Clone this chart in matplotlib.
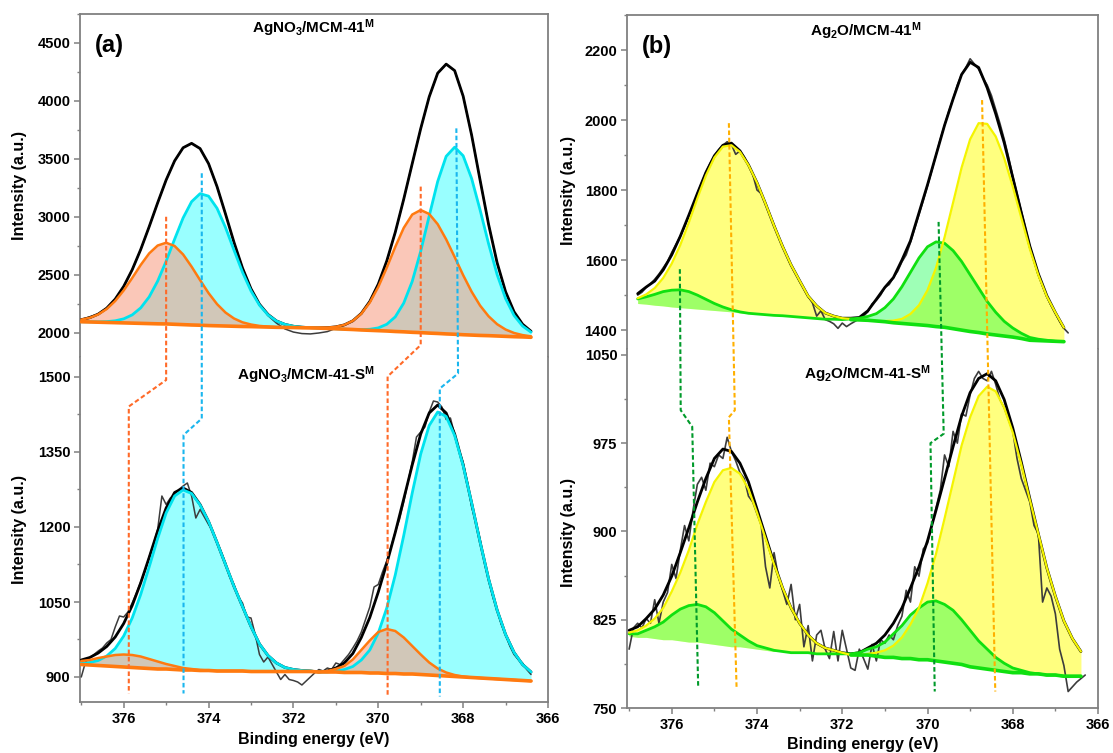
import numpy as np
import matplotlib
matplotlib.use('Agg')
import matplotlib.pyplot as plt
from matplotlib.lines import Line2D
from matplotlib.ticker import MultipleLocator

plt.rcParams['font.family'] = ['Liberation Sans', 'DejaVu Sans']
plt.rcParams['font.weight'] = 'bold'
plt.rcParams['mathtext.fontset'] = 'custom'
plt.rcParams['mathtext.rm'] = 'Liberation Sans:bold'
plt.rcParams['mathtext.bf'] = 'Liberation Sans:bold'
plt.rcParams['mathtext.it'] = 'Liberation Sans:bold'
plt.rcParams['mathtext.default'] = 'rm'
plt.rcParams['lines.solid_joinstyle'] = 'round'
plt.rcParams['lines.solid_capstyle'] = 'round'

# ---------------- data (binding energy grids, eV) ----------------
GRID_A = np.round(377.0 - 0.2 * np.arange(54), 2)     # 377.0 ... 366.4
GRID_BT = np.round(376.8 - 0.2 * np.arange(51), 2)    # 376.8 ... 366.8
GRID_BB = GRID_A

# ---- (a) AgNO3/MCM-41^M ----
a_top_base = [2097, 2095, 2093, 2091, 2089, 2087, 2085, 2083, 2081, 2079,
              2078, 2075, 2072, 2069, 2067, 2064, 2062, 2060, 2058, 2056,
              2055, 2053, 2051, 2049, 2048, 2047, 2045, 2044, 2042, 2039,
              2036, 2033, 2030, 2026, 2023, 2020, 2017, 2013, 2010, 2006,
              2003, 1999, 1996, 1992, 1989, 1985, 1982, 1979, 1977, 1974,
              1971, 1968, 1966, 1963]
a_top_orange = [2115, 2131, 2160, 2207, 2276, 2367, 2474, 2586, 2686, 2754,
                2778, 2750, 2677, 2572, 2456, 2344, 2249, 2176, 2125, 2092,
                2073, 2061, 2055, 2050, 2048, 2047, 2045, 2044, 2045, 2046,
                2053, 2070, 2105, 2166, 2263, 2397, 2563, 2742, 2906, 3021,
                3060, 3026, 2938, 2807, 2655, 2499, 2356, 2236, 2144, 2076,
                2030, 2000, 1982, 1971]
a_top_cyan = [2097, 2096, 2096, 2098, 2105, 2122, 2156, 2216, 2311, 2447,
              2619, 2809, 2992, 3132, 3201, 3180, 3075, 2909, 2714, 2524,
              2363, 2240, 2156, 2103, 2074, 2058, 2050, 2046, 2042, 2039,
              2036, 2033, 2030, 2029, 2032, 2044, 2075, 2139, 2258, 2445,
              2705, 3009, 3306, 3523, 3602, 3528, 3332, 3060, 2769, 2505,
              2297, 2151, 2060, 2007]
a_top_env = [2115, 2132, 2163, 2214, 2292, 2402, 2545, 2719, 2916, 3122,
             3319, 3484, 3597, 3635, 3590, 3460, 3262, 3025, 2781, 2560,
             2381, 2248, 2160, 2104, 2074, 2058, 2050, 2046, 2045, 2046,
             2053, 2070, 2105, 2169, 2272, 2421, 2621, 2868, 3154, 3460,
             3762, 4036, 4240, 4318, 4262, 4042, 3706, 3317, 2936, 2607,
             2356, 2183, 2076, 2015]
a_top_raw = [2115, 2140, 2163, 2214, 2292, 2402, 2545, 2719, 2916, 3122,
             3319, 3484, 3597, 3635, 3590, 3460, 3262, 3025, 2781, 2560,
             2381, 2248, 2150, 2085, 2035, 2008, 1995, 1992, 2000, 2012,
             2040, 2068, 2105, 2169, 2272, 2421, 2621, 2868, 3154, 3460,
             3762, 4036, 4240, 4318, 4262, 4042, 3706, 3317, 2936, 2607,
             2356, 2183, 2076, 2015]

# ---- (a) AgNO3/MCM-41-S^M ----
a_bot_base = [925, 924, 923, 922, 921, 920, 919, 918, 917, 916,
              916, 915, 914, 914, 913, 913, 912, 912, 912, 912,
              911, 911, 911, 911, 911, 911, 911, 911, 910, 910,
              910, 909, 909, 909, 908, 908, 907, 907, 906, 906,
              905, 904, 903, 902, 901, 900, 899, 898, 897, 896,
              895, 894, 893, 892]
a_bot_orange = [932, 934, 938, 941, 944, 945, 944, 941, 936, 931,
                926, 922, 918, 916, 914, 913, 912, 912, 912, 912,
                911, 911, 911, 911, 911, 911, 911, 911, 910, 912,
                916, 922, 935, 954, 973, 990, 996, 992, 979, 962,
                945, 929, 917, 909, 904, 901, 899, 898, 897, 896,
                895, 894, 893, 892]
a_bot_cyan = [927, 929, 933, 942, 957, 982, 1018, 1065, 1120, 1177,
              1228, 1262, 1274, 1267, 1244, 1211, 1169, 1125, 1081, 1041,
              1001, 966, 943, 928, 919, 915, 913, 912, 910, 910,
              912, 915, 921, 934, 954, 988, 1038, 1104, 1183, 1268,
              1346, 1403, 1430, 1421, 1383, 1323, 1248, 1170, 1096, 1034,
              985, 949, 925, 910]
a_bot_env = [934, 939, 948, 961, 980, 1007, 1043, 1088, 1139, 1192,
             1238, 1269, 1278, 1269, 1245, 1211, 1169, 1125, 1081, 1041,
             1001, 966, 943, 928, 919, 915, 913, 912, 910, 912,
             918, 928, 947, 979, 1019, 1070, 1127, 1189, 1256, 1324,
             1386, 1428, 1444, 1428, 1386, 1324, 1248, 1170, 1096, 1034,
             985, 949, 925, 910]
a_bot_raw = [900, 930, 938, 945, 952, 958, 968, 975, 1000, 1022,
             1020, 1030, 1048, 1068, 1090, 1112, 1140, 1165, 1195, 1262,
             1245, 1258, 1265, 1275, 1282, 1288, 1262, 1218, 1235, 1220,
             1205, 1192, 1170, 1150, 1128, 1100, 1085, 1060, 1048, 1020,
             1018, 985, 945, 930, 940, 925, 910, 895, 905, 895,
             893, 890, 884, 892, 900, 908, 915, 912, 918, 915,
             928, 925, 935, 945, 958, 972, 990, 1015, 1040, 1080,
             1085, 1110, 1132, 1160, 1190, 1215, 1250, 1290, 1330, 1380,
             1390, 1400, 1430, 1452, 1450, 1440, 1415, 1418, 1385, 1355,
             1330, 1290, 1240, 1210, 1175, 1130, 1095, 1060, 1035, 1005,
             985, 962, 945, 935, 928, 915, 905]

# ---- (b) Ag2O/MCM-41^M ----
b_top_base = [1476, 1474, 1471, 1469, 1466, 1464, 1462, 1460, 1458, 1456,
              1454, 1452, 1449, 1447, 1446, 1444, 1442, 1441, 1439, 1437,
              1435, 1433, 1431, 1431, 1430, 1430, 1429, 1428, 1426, 1424,
              1421, 1419, 1417, 1415, 1413, 1410, 1408, 1404, 1400, 1396,
              1393, 1389, 1386, 1383, 1380, 1376, 1371, 1370, 1369, 1368,
              1367]
b_top_yellow = [1491, 1502, 1520, 1549, 1590, 1643, 1707, 1776, 1841, 1893,
                1924, 1928, 1909, 1871, 1821, 1761, 1698, 1639, 1586, 1541,
                1497, 1469, 1449, 1440, 1434, 1432, 1430, 1428, 1426, 1426,
                1427, 1432, 1446, 1471, 1514, 1578, 1665, 1764, 1864, 1945,
                1991, 1989, 1953, 1891, 1810, 1721, 1632, 1557, 1496, 1450,
                1407]
b_top_green = [1489, 1495, 1502, 1510, 1514, 1515, 1510, 1500, 1488, 1476,
               1466, 1458, 1452, 1448, 1446, 1444, 1442, 1441, 1439, 1437,
               1435, 1433, 1431, 1431, 1430, 1432, 1434, 1439, 1447, 1464,
               1489, 1524, 1565, 1606, 1638, 1652, 1648, 1627, 1596, 1558,
               1520, 1482, 1451, 1425, 1406, 1391, 1379, 1374, 1371, 1368,
               1367]
b_top_env = [1504, 1523, 1540, 1572, 1615, 1668, 1728, 1790, 1850, 1898,
             1928, 1934, 1912, 1872, 1821, 1761, 1698, 1639, 1586, 1541,
             1497, 1469, 1449, 1440, 1434, 1434, 1436, 1455, 1488, 1522,
             1550, 1600, 1655, 1735, 1815, 1900, 1985, 2060, 2130, 2165,
             2150, 2092, 2018, 1935, 1836, 1736, 1640, 1561, 1498, 1450,
             1407]
b_top_raw = [1500, 1508, 1522, 1532, 1545, 1560, 1578, 1596, 1622, 1645,
             1668, 1695, 1726, 1752, 1790, 1820, 1850, 1876, 1898, 1915,
             1928, 1938, 1930, 1902, 1912, 1895, 1872, 1845, 1800, 1790,
             1762, 1730, 1700, 1668, 1640, 1612, 1585, 1562, 1540, 1518,
             1496, 1478, 1440, 1455, 1430, 1425, 1418, 1405, 1420, 1410,
             1418, 1425, 1432, 1440, 1452, 1475, 1485, 1500, 1522, 1530,
             1550, 1568, 1595, 1615, 1650, 1690, 1730, 1770, 1812, 1855,
             1900, 1945, 1985, 2025, 2060, 2100, 2130, 2150, 2175, 2160,
             2145, 2120, 2100, 2070, 2030, 1990, 1945, 1895, 1840, 1790,
             1740, 1690, 1640, 1600, 1560, 1525, 1495, 1470, 1448, 1425,
             1405, 1392]

# ---- (b) Ag2O/MCM-41-S^M ----
b_bot_base = [811, 810, 810, 809, 808, 808, 807, 806, 806, 805,
              804, 803, 802, 802, 801, 800, 799, 798, 798, 797,
              797, 797, 796, 796, 796, 796, 795, 795, 795, 794,
              793, 793, 792, 792, 791, 791, 790, 789, 788, 787,
              785, 784, 783, 782, 781, 780, 780, 779, 779, 778,
              778, 777, 777, 777]
b_bot_yellow = [814, 816, 820, 826, 835, 849, 865, 884, 906, 925,
                942, 952, 954, 949, 936, 916, 894, 872, 852, 835,
                822, 812, 805, 801, 799, 797, 795, 795, 796, 797,
                799, 803, 810, 821, 835, 856, 881, 911, 942, 973,
                997, 1015, 1023, 1019, 1005, 984, 957, 927, 898, 869,
                845, 824, 809, 798]
b_bot_green = [813, 813, 816, 819, 823, 829, 834, 837, 838, 836,
               831, 824, 817, 812, 807, 803, 801, 799, 798, 797,
               797, 797, 796, 796, 796, 796, 796, 797, 800, 802,
               806, 813, 820, 829, 835, 840, 841, 838, 833, 825,
               816, 807, 800, 793, 788, 784, 782, 780, 779, 778,
               778, 777, 777, 777]
b_bot_env = [816, 819, 826, 834, 846, 862, 882, 903, 925, 945,
             962, 970, 968, 958, 942, 919, 896, 873, 852, 835,
             822, 812, 805, 801, 799, 797, 796, 797, 801, 805,
             812, 822, 835, 852, 870, 892, 918, 945, 972, 998,
             1018, 1030, 1034, 1028, 1012, 988, 959, 928, 898, 869,
             845, 824, 809, 798]
b_bot_raw = [800, 818, 822, 818, 826, 822, 842, 822, 840, 848,
             872, 860, 884, 905, 892, 918, 940, 946, 935, 958,
             955, 965, 962, 980, 968, 960, 950, 945, 930, 925,
             915, 905, 870, 852, 882, 862, 850, 838, 855, 825,
             838, 802, 820, 790, 812, 816, 800, 792, 815, 790,
             816, 800, 784, 782, 800, 792, 783, 804, 790, 808,
             805, 812, 808, 820, 828, 850, 840, 870, 862, 885,
             890, 905, 920, 935, 965, 955, 985, 975, 1000, 998,
             1016, 1030, 1036, 1030, 1028, 1036, 1025, 1012, 1005, 995,
             985, 962, 945, 935, 925, 905, 898, 840, 852, 845,
             830, 800, 786, 764, 768, 772, 775, 778]

# dashed guide lines: (eV, intensity, panel) points
GUIDES_A = [
    ('#ff6a28', [(375.00, 3002, 'top'), (375.00, 1494, 'bot'), (375.88, 1441, 'bot'), (375.88, 867, 'bot')]),
    ('#1ab6ee', [(374.16, 3377, 'top'), (374.16, 1417, 'bot'), (374.59, 1384, 'bot'), (374.59, 867, 'bot')]),
    ('#ff6a28', [(369.00, 3262, 'top'), (369.00, 1564, 'bot'), (369.78, 1501, 'bot'), (369.78, 861, 'bot')]),
    ('#1ab6ee', [(368.16, 3764, 'top'), (368.12, 1507, 'bot'), (368.55, 1477, 'bot'), (368.55, 861, 'bot')]),
]
GUIDES_B = [
    ('#009a2a', [(375.81, 1574, 'top'), (375.79, 1003, 'bot'), (375.52, 989, 'bot'), (375.38, 768, 'bot')]),
    ('#ffb000', [(374.66, 1991, 'top'), (374.52, 1003, 'bot'), (374.66, 997, 'bot'), (374.48, 768, 'bot')]),
    ('#009a2a', [(369.74, 1709, 'top'), (369.62, 983, 'bot'), (369.93, 975, 'bot'), (369.83, 764, 'bot')]),
    ('#ffb000', [(368.72, 2057, 'top'), (368.41, 764, 'bot')]),
]

# ---------------- figure ----------------
W, H = 1113, 753
fig = plt.figure(figsize=(W / 100, H / 100), dpi=100)


def rect(l, r, t, b):
    return [l / W, 1 - b / H, (r - l) / W, (b - t) / H]


ax_at = fig.add_axes(rect(80, 548, 14, 357))
ax_ab = fig.add_axes(rect(80, 548, 357, 702))
ax_bt = fig.add_axes(rect(627, 1098, 15, 349))
ax_bb = fig.add_axes(rect(627, 1098, 349, 708))

SPINE = '#808080'


def style(ax, top_panel, ymaj, ymin):
    for s in ax.spines.values():
        s.set_color(SPINE)
        s.set_linewidth(1.3)
    if top_panel:
        ax.spines['bottom'].set_visible(False)
        ax.tick_params(axis='x', which='both', bottom=False, labelbottom=False)
    else:
        ax.spines['top'].set_visible(False)
        ax.xaxis.set_major_locator(MultipleLocator(2))
        ax.xaxis.set_minor_locator(MultipleLocator(1))
    ax.yaxis.set_major_locator(MultipleLocator(ymaj))
    ax.yaxis.set_minor_locator(MultipleLocator(ymin))
    ax.tick_params(which='both', direction='out', color=SPINE, top=False, right=False,
                   labelsize=10.5, pad=2.5)
    ax.tick_params(which='major', length=4.5, width=1.1)
    ax.tick_params(which='minor', length=2.5, width=1.0)
    for lab in ax.get_xticklabels() + ax.get_yticklabels():
        lab.set_fontweight('bold')


def draw_a(ax, x, base, cyan, orange, env, raw_start, raw_step, raw):
    xr = raw_start - raw_step * np.arange(len(raw))
    ax.fill_between(x, base, cyan, color='#00ffff', alpha=0.4, lw=0, zorder=1)
    ax.fill_between(x, base, orange, color='#f7a38a', alpha=0.6, lw=0, zorder=2)
    ax.plot(xr, raw, color='#3c3c3c', lw=1.1, zorder=3)
    ax.plot(x, env, color='black', lw=2.0, zorder=4)
    ax.plot(x, cyan, color='#00e3ee', lw=2.0, zorder=5)
    ax.plot(x, orange, color='#ff7a10', lw=1.8, zorder=6)
    ax.plot(x, base, color='#ff7a10', lw=2.6, zorder=7)


def draw_b(ax, x, base, yellow, green, env, raw_start, raw_step, raw):
    xr = raw_start - raw_step * np.arange(len(raw))
    x = np.asarray(x)
    base = np.asarray(base)
    ax.fill_between(x, base, yellow, color='#ffff00', alpha=0.5, lw=0, zorder=1)
    ax.fill_between(x, base, green, color='#00ff40', alpha=0.38, lw=0, zorder=2)
    ax.plot(xr, raw, color='#3c3c3c', lw=1.2, zorder=3)
    ax.plot(x, env, color='black', lw=2.0, zorder=4)
    ax.plot(x, green, color='#10e010', lw=2.0, zorder=5)
    ax.plot(x, yellow, color='#f4f400', lw=1.6, zorder=6)
    right = x <= 371.8
    ax.plot(x[right], base[right], color='#10e010', lw=2.6, zorder=7)


draw_a(ax_at, GRID_A, a_top_base, a_top_cyan, a_top_orange, a_top_env, 377.0, 0.2, a_top_raw)
draw_a(ax_ab, GRID_A, a_bot_base, a_bot_cyan, a_bot_orange, a_bot_env, 377.0, 0.1, a_bot_raw)
draw_b(ax_bt, GRID_BT, b_top_base, b_top_yellow, b_top_green, b_top_env, 376.8, 0.1, b_top_raw)
draw_b(ax_bb, GRID_BB, b_bot_base, b_bot_yellow, b_bot_green, b_bot_env, 377.0, 0.1, b_bot_raw)

ax_at.set_xlim(377.03, 366.0)
ax_ab.set_xlim(377.03, 366.0)
ax_bt.set_xlim(377.05, 366.0)
ax_bb.set_xlim(377.05, 366.0)
ax_at.set_ylim(1793, 4750)
ax_ab.set_ylim(850, 1540)
ax_bt.set_ylim(1346, 2300)
ax_bb.set_ylim(750, 1055)

style(ax_at, True, 500, 250)
style(ax_ab, False, 150, 75)
style(ax_bt, True, 200, 100)
style(ax_bb, False, 75, 37.5)

# labels
for ax, lx, ly in [(ax_at, -0.113, 0.5), (ax_ab, -0.113, 0.5),
                   (ax_bt, -0.108, 0.476), (ax_bb, -0.108, 0.49)]:
    ax.set_ylabel('Intensity (a.u.)', fontsize=11.5, fontweight='bold')
    ax.yaxis.set_label_coords(lx, ly)
for ax, ly in [(ax_ab, -0.088), (ax_bb, -0.080)]:
    ax.set_xlabel('Binding energy (eV)', fontsize=11.5, fontweight='bold')
    ax.xaxis.set_label_coords(0.5, ly)

ax_at.text(0.498, 0.958, r'AgNO$_3$/MCM-41$^M$', transform=ax_at.transAxes,
           ha='center', va='center', fontsize=11, fontweight='bold')
ax_ab.text(0.483, 0.948, r'AgNO$_3$/MCM-41-S$^M$', transform=ax_ab.transAxes,
           ha='center', va='center', fontsize=11, fontweight='bold')
ax_bt.text(0.507, 0.952, r'Ag$_2$O/MCM-41$^M$', transform=ax_bt.transAxes,
           ha='center', va='center', fontsize=11, fontweight='bold')
ax_bb.text(0.51, 0.93, r'Ag$_2$O/MCM-41-S$^M$', transform=ax_bb.transAxes,
           ha='center', va='center', fontsize=11, fontweight='bold')
ax_at.text(0.062, 0.907, '(a)', transform=ax_at.transAxes, ha='center', va='center',
           fontsize=17, fontweight='bold')
ax_bt.text(0.064, 0.907, '(b)', transform=ax_bt.transAxes, ha='center', va='center',
           fontsize=17, fontweight='bold')

# dashed guides spanning both stacked panels
inv = fig.transFigure.inverted()


def add_guides(guides, ax_top, ax_bot):
    for color, pts in guides:
        xs, ys = [], []
        for ev, val, which in pts:
            ax = ax_top if which == 'top' else ax_bot
            fx, fy = inv.transform(ax.transData.transform((ev, val)))
            xs.append(fx)
            ys.append(fy)
        fig.add_artist(Line2D(xs, ys, transform=fig.transFigure, color=color, lw=1.5,
                              linestyle=(0, (2.2, 1.3)), zorder=20))


add_guides(GUIDES_A, ax_at, ax_ab)
add_guides(GUIDES_B, ax_bt, ax_bb)

fig.savefig('out.png', dpi=100)
